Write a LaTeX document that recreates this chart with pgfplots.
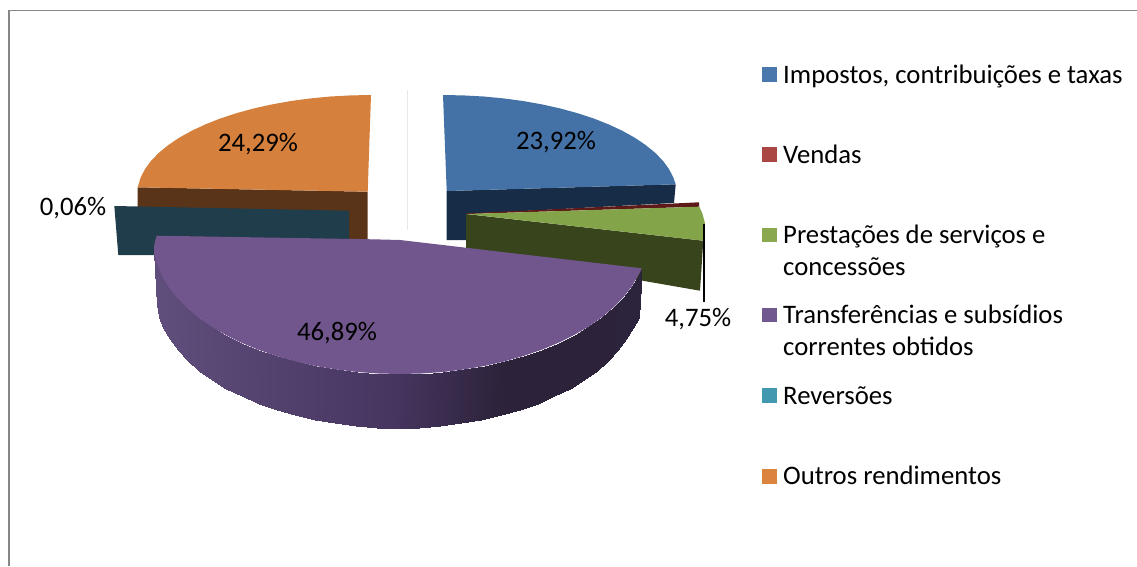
\documentclass[border=0pt]{standalone}
\usepackage{pgfplots}
\pgfplotsset{compat=1.18}
\usepackage{fontspec}
\setmainfont{Carlito}
\definecolor{bluetop}{HTML}{4472A6}
\definecolor{blueside}{HTML}{172C46}
\definecolor{redtop}{HTML}{5E1A18}
\definecolor{greentop}{HTML}{84A44A}
\definecolor{greenside}{HTML}{38451C}
\definecolor{purpletop}{HTML}{70568C}
\definecolor{tealside}{HTML}{1F3D4A}
\definecolor{orangetop}{HTML}{D5803C}
\definecolor{orangeside}{HTML}{5A3418}
\definecolor{lblue}{HTML}{4A77AC}
\definecolor{lred}{HTML}{AA4644}
\definecolor{lgreen}{HTML}{8AA84E}
\definecolor{lpurple}{HTML}{71588F}
\definecolor{lteal}{HTML}{4198AF}
\definecolor{lorange}{HTML}{DB843D}
\definecolor{frame}{HTML}{868686}
\newcommand{\lab}{\fontsize{26.7}{32}\selectfont}
\begin{document}
\begin{tikzpicture}[x=1pt,y=1pt]
\useasboundingbox (0,0) rectangle (1137,566);
\begin{axis}[
  at={(0,0)},anchor=south west,
  scale only axis,width=1137pt,height=566pt,
  xmin=0,xmax=1137,ymin=0,ymax=566,y dir=reverse,
  axis lines=none,no markers,clip=true,
  every axis plot/.append style={line join=round},
  colormap={pur}{rgb255(0pt)=(96,78,124); rgb255(243pt)=(69,53,95); rgb255(353pt)=(44,34,57); rgb255(488pt)=(44,35,60)},
]
% frame
\addplot[draw=frame,line width=2pt] coordinates {(9,566)(9,10.5)};
\addplot[draw=frame,line width=1.3pt] coordinates {(8,10.5)(1137,10.5)};
% faint slice
\addplot[draw=black!9,line width=1pt] coordinates {(407.3,90)(407.3,230)};
% blue
\addplot[fill=blueside,draw=none] coordinates {(446.7,191)(675.7,184.3)(674,203)(466.7,214)(466,240)(446.7,240)};
\addplot[fill=bluetop,draw=none] coordinates {(443,95)(463.4,95.4)(483.7,96.5)(503.6,98.4)(523,101)(542,104.4)(560,108.4)(577.3,113.1)(593.5,118.4)(608.4,124.3)(622.2,130.7)(634.6,137.6)(645.6,145)(655,152.7)(663,160.8)(669,169.1)(673.4,177.6)(675.7,184.3)(446.7,191)};
% orange
\addplot[fill=orangeside,draw=none] coordinates {(137.7,187.3)(367.7,191.7)(367.7,245)(137.7,245)};
\addplot[fill=orangetop,draw=none] coordinates {(137.7,187.3)(140.6,177.6)(145,169.1)(151,160.8)(159,152.7)(168.4,145)(179.4,137.6)(191.8,130.7)(205.6,124.3)(220.5,118.4)(236.7,113.1)(254,108.4)(272,104.4)(291,101)(310.4,98.4)(330.3,96.5)(350.6,95.4)(371,95)(367.7,191.7)};
% teal
\addplot[fill=tealside,draw=none] coordinates {(114.3,206)(349,210.7)(349,245)(155,255)(118.3,255)};
% red and green
\addplot[fill=greenside,draw=none] coordinates {(466,214)(703.3,240.7)(700,290.7)(466,250)};
\addplot[fill=redtop,draw=none] coordinates {(466.7,213.3)(699,202.3)(699.3,206.7)(466.7,214)};
\addplot[fill=greentop,draw=none] coordinates {(466.7,214)(699.3,206.7)(702.3,213.3)(705,223.3)(704.5,232)(703.3,240.7)};
% purple side
\addplot[surf,shader=interp,mesh/cols=2,point meta=explicit,point meta min=154,point meta max=642]
 table[x=x,y=y,meta=m] {
x y m
641.7 268.3 642
639 318 642
638.6 274.7 638
632.7 328 638
632.2 285.8 632
626.4 339.2 632
623.8 296.7 624
618.2 350.1 624
613.9 307 614
608.4 360.5 614
602.3 316.9 602
597 370.5 602
589.2 326.2 589
584.1 379.8 589
574.6 334.7 575
569.8 388.5 575
558.8 342.6 559
554.2 396.4 559
541.8 349.7 542
537.5 403.6 542
523.5 356 523
519.5 409.9 523
504.5 361.4 504
500.8 415.3 504
484.5 366 484
481.1 419.9 484
464 369.4 464
460.9 423.4 464
443 372 443
440.3 426 443
421.5 373.5 421
419.1 427.5 421
400 374 400
398 428 400
378.5 373.5 378
376.9 427.5 378
357 372 357
355.7 426 357
336 369.4 336
335.1 423.4 336
315.5 366 315
314.9 419.9 315
295.5 361.4 295
295.2 415.3 295
276.5 356 276
276.5 409.9 276
258.2 349.7 258
258.5 403.6 258
241.2 342.6 241
241.8 396.4 241
225.4 334.7 225
226.2 388.5 225
210.8 326.2 211
211.9 379.8 211
197.7 316.9 198
199 370.5 198
186.1 307 186
187.6 360.5 186
176.2 296.7 176
177.8 350.1 176
167.8 285.8 168
169.6 339.2 168
161.4 274.7 161
163.3 328 161
156.7 263.3 157
158.6 316.5 157
154 251.7 154
156.5 304.7 154
};
% purple top
\addplot[fill=purpletop,draw=none] coordinates {(156.7,235.7)(373,239.3)(400,240)(641.7,268.3)(638.6,274.7)(632.2,285.8)(623.8,296.7)(613.9,307)(602.3,316.9)(589.2,326.2)(574.6,334.7)(558.8,342.6)(541.8,349.7)(523.5,356)(504.5,361.4)(484.5,366)(464,369.4)(443,372)(421.5,373.5)(400,374)(378.5,373.5)(357,372)(336,369.4)(315.5,366)(295.5,361.4)(276.5,356)(258.2,349.7)(241.2,342.6)(225.4,334.7)(210.8,326.2)(197.7,316.9)(186.1,307)(176.2,296.7)(167.8,285.8)(161.4,274.7)(156.7,263.3)(154,251.7)(154.3,244)};
% leader
\addplot[draw=black,line width=1.5pt] coordinates {(704,224)(704,302)};
% legend squares
\addplot[fill=lblue,draw=none] coordinates {(762,67.3)(777,67.3)(777,82)(762,82)};
\addplot[fill=lred,draw=none] coordinates {(762,147)(777,147)(777,162)(762,162)};
\addplot[fill=lgreen,draw=none] coordinates {(762,228)(777,228)(777,242)(762,242)};
\addplot[fill=lpurple,draw=none] coordinates {(762,308)(777,308)(777,322)(762,322)};
\addplot[fill=lteal,draw=none] coordinates {(762,388)(777,388)(777,403)(762,403)};
\addplot[fill=lorange,draw=none] coordinates {(762,469)(777,469)(777,484)(762,484)};
% data labels
\node[font=\lab,inner sep=0pt,anchor=base] at (axis cs:556,149.5) {23,92\%};
\node[font=\lab,inner sep=0pt,anchor=base] at (axis cs:258,151) {24,29\%};
\node[font=\lab,inner sep=0pt,anchor=base] at (axis cs:337,340.5) {46,89\%};
\node[font=\lab,inner sep=0pt,anchor=base] at (axis cs:73,215.5) {0,06\%};
\node[font=\lab,inner sep=0pt,anchor=base] at (axis cs:698,326.5) {4,75\%};
% legend text
\node[font=\lab,inner sep=0pt,anchor=base west] at (axis cs:783,83) {Impostos, contribuições e taxas};
\node[font=\lab,inner sep=0pt,anchor=base west] at (axis cs:783,163) {Vendas};
\node[font=\lab,inner sep=0pt,anchor=base west] at (axis cs:783,243) {Prestações de serviços e};
\node[font=\lab,inner sep=0pt,anchor=base west] at (axis cs:783,275) {concessões};
\node[font=\lab,inner sep=0pt,anchor=base west] at (axis cs:783,323) {Transferências e subsídios};
\node[font=\lab,inner sep=0pt,anchor=base west] at (axis cs:783,355) {correntes obtidos};
\node[font=\lab,inner sep=0pt,anchor=base west] at (axis cs:783,404) {Reversões};
\node[font=\lab,inner sep=0pt,anchor=base west] at (axis cs:783,484) {Outros rendimentos};
\end{axis}
\end{tikzpicture}
\end{document}
